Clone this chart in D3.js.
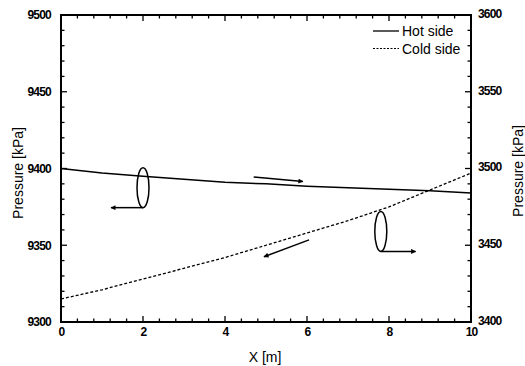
<!DOCTYPE html>
<html><head><meta charset="utf-8">
<script src="https://cdn.jsdelivr.net/npm/d3@7"></script>
<style>body{margin:0;background:#fff}svg{display:block}text{font-family:"Liberation Sans",Arial,sans-serif;fill:#000}</style>
</head><body>
<svg id="c" width="525" height="366"></svg>
<script>
const xs = [0,1,2,3,4,5,6,7,8,9,10];
const hotSide = [9400,9397,9395,9393,9391,9390,9388.5,9387.5,9386.5,9385.5,9384];
const coldSide = [3415,3421,3428,3435,3442,3450,3458,3466,3475,3486,3497];
const xTicks = [0,2,4,6,8,10];
const leftTicks = [9300,9350,9400,9450,9500];
const rightTicks = [3400,3450,3500,3550,3600];

const svg = d3.select("#c");
const L=61, R=471, T=15, B=322;
const x = d3.scaleLinear().domain([0,10]).range([L,R]);
const yL = d3.scaleLinear().domain([9300,9500]).range([B,T]);
const yR = d3.scaleLinear().domain([3400,3600]).range([B,T]);

// minor ticks
const g = svg.append("g");
const minorX = d3.range(0,10.001,0.4);
minorX.forEach(v=>{
  const major = xTicks.some(t=>Math.abs(t-v)<1e-6);
  const len = major?6:3.5;
  g.append("line").attr("x1",x(v)).attr("x2",x(v)).attr("y1",B).attr("y2",B-len).attr("stroke","#000").attr("stroke-width",1.3);
  g.append("line").attr("x1",x(v)).attr("x2",x(v)).attr("y1",T).attr("y2",T+len).attr("stroke","#000").attr("stroke-width",1.3);
});
d3.range(9300,9500.001,10).forEach(v=>{
  const len = v%50===0?6:3.5;
  g.append("line").attr("x1",L).attr("x2",L+len).attr("y1",yL(v)).attr("y2",yL(v)).attr("stroke","#000").attr("stroke-width",1.3);
});
d3.range(3400,3600.001,10).forEach(v=>{
  const len = v%50===0?6:3.5;
  g.append("line").attr("x1",R).attr("x2",R-len).attr("y1",yR(v)).attr("y2",yR(v)).attr("stroke","#000").attr("stroke-width",1.3);
});

// frame
svg.append("rect").attr("x",L).attr("y",T).attr("width",R-L).attr("height",B-T).attr("fill","none").attr("stroke","#000").attr("stroke-width",2);

// tick labels via axes
const ax = svg.append("g").attr("transform",`translate(0,${B})`).call(d3.axisBottom(x).tickValues(xTicks).tickSize(0).tickPadding(5).tickFormat(d3.format("d")));
const al = svg.append("g").attr("transform",`translate(${L},0)`).call(d3.axisLeft(yL).tickValues(leftTicks).tickSize(0).tickPadding(10).tickFormat(d3.format("d")));
const ar = svg.append("g").attr("transform",`translate(${R},0)`).call(d3.axisRight(yR).tickValues(rightTicks).tickSize(0).tickPadding(7).tickFormat(d3.format("d")));
[ax,al,ar].forEach(a=>{a.select(".domain").remove();a.selectAll("text").attr("font-size","12px").attr("font-weight","bold").attr("letter-spacing","-0.8px").attr("font-family","'Liberation Sans',Arial,sans-serif").attr("fill","#000");});
ar.selectAll("text").attr("dy","0.2em");

// lines
const lineHot = d3.line().x((d,i)=>x(xs[i])).y(d=>yL(d));
const lineCold = d3.line().x((d,i)=>x(xs[i])).y(d=>yR(d));
svg.append("path").attr("d",lineHot(hotSide)).attr("fill","none").attr("stroke","#000").attr("stroke-width",1.5);
svg.append("path").attr("d",lineCold(coldSide)).attr("fill","none").attr("stroke","#000").attr("stroke-width",1.3).attr("stroke-dasharray","3,2");

// arrow marker
svg.append("defs").append("marker").attr("id","ah").attr("viewBox","0 0 10 10").attr("refX",9).attr("refY",5)
  .attr("markerWidth",7).attr("markerHeight",5).attr("markerUnits","userSpaceOnUse").attr("orient","auto")
  .append("path").attr("d","M0,0L10,5L0,10Z").attr("fill","#000");

function arrow(x1,y1,x2,y2){
  svg.append("line").attr("x1",x1).attr("y1",y1).attr("x2",x2).attr("y2",y2).attr("stroke","#000").attr("stroke-width",1.5).attr("marker-end","url(#ah)");
}
svg.append("ellipse").attr("cx",x(2)).attr("cy",yL(9387.5)).attr("rx",6).attr("ry",20).attr("fill","none").attr("stroke","#000").attr("stroke-width",1.5);
arrow(x(2),yL(9374.5),x(1.22),yL(9374.5));
arrow(x(4.7),yL(9394.5),x(5.9),yL(9391.5));
arrow(x(6.05),yR(3453.5),x(4.95),yR(3442.5));
svg.append("ellipse").attr("cx",x(7.8)).attr("cy",yR(3459)).attr("rx",6).attr("ry",20).attr("fill","none").attr("stroke","#000").attr("stroke-width",1.5);
arrow(x(7.8),yR(3446),x(8.65),yR(3446));

// legend
svg.append("line").attr("x1",373).attr("x2",399).attr("y1",31).attr("y2",31).attr("stroke","#000").attr("stroke-width",1.3);
svg.append("line").attr("x1",373).attr("x2",399).attr("y1",48.5).attr("y2",48.5).attr("stroke","#000").attr("stroke-width",1.2).attr("stroke-dasharray","2,1.5");
svg.append("text").attr("x",402).attr("y",36).attr("font-size","14px").text("Hot side");
svg.append("text").attr("x",402).attr("y",53.5).attr("font-size","14px").text("Cold side");

// axis titles
svg.append("text").attr("transform",`translate(23,173) rotate(-90)`).attr("text-anchor","middle").attr("font-size","14px").text("Pressure [kPa]");
svg.append("text").attr("transform",`translate(523,171) rotate(-90)`).attr("text-anchor","middle").attr("font-size","14px").text("Pressure [kPa]");
svg.append("text").attr("x",265).attr("y",362).attr("text-anchor","middle").attr("font-size","14px").text("X [m]");
</script>
</body></html>
